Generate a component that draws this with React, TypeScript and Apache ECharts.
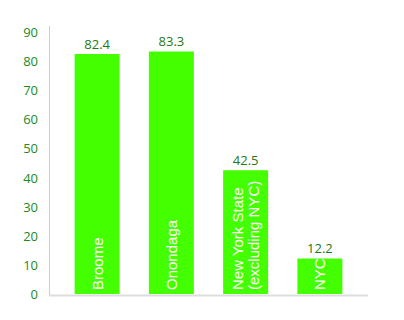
import React, { useEffect, useRef } from "react";
import * as echarts from "echarts";

const categories = ["Broome", "Onondaga", "New York State\n(excluding NYC)", "NYC"];
const values = [82.4, 83.3, 42.5, 12.2];
const yTicks = { min: 0, max: 90, interval: 10 };

export default function App() {
  const ref = useRef<HTMLDivElement>(null);
  useEffect(() => {
    const chart = echarts.init(ref.current!, null, { renderer: "svg" });
    chart.setOption({
      animation: false,
      backgroundColor: "#ffffff",
      grid: { left: 60, right: 47, top: 32, bottom: 26 },
      xAxis: {
        type: "category",
        data: categories,
        axisLine: { show: false },
        axisTick: { show: false },
        axisLabel: {
          inside: true,
          rotate: 90,
          margin: 4,
          color: "#ffffff",
          fontFamily: "Liberation Sans",
          fontSize: 15,
          lineHeight: 16,
        },
        z: 10,
      },
      yAxis: {
        type: "value",
        min: yTicks.min,
        max: yTicks.max,
        interval: yTicks.interval,
        offset: 11,
        axisLine: { show: false },
        axisTick: { show: false },
        splitLine: { show: false },
        axisLabel: {
          margin: 11,
          color: "#238a1c",
          fontFamily: "Open Sans",
          fontSize: 13,
        },
      },
      graphic: [
        {
          type: "line",
          shape: { x1: 49.5, y1: 26, x2: 49.5, y2: 296 },
          style: { stroke: "#cccccc", lineWidth: 1 },
          z: 5,
        },
        {
          type: "line",
          shape: { x1: 49, y1: 295.5, x2: 368, y2: 295.5 },
          style: { stroke: "#dddddd", lineWidth: 2 },
          z: 5,
        },
      ],
      series: [
        {
          type: "bar",
          data: values,
          barWidth: 45,
          itemStyle: { color: "#44ff00" },
          label: {
            show: true,
            position: "top",
            distance: 4,
            color: "#1e7a14",
            fontFamily: "Open Sans",
            fontSize: 13,
          },
        },
      ],
    });
    return () => chart.dispose();
  }, []);
  return <div ref={ref} style={{ width: 404, height: 320, position: "absolute", left: 0, top: 0 }} />;
}
